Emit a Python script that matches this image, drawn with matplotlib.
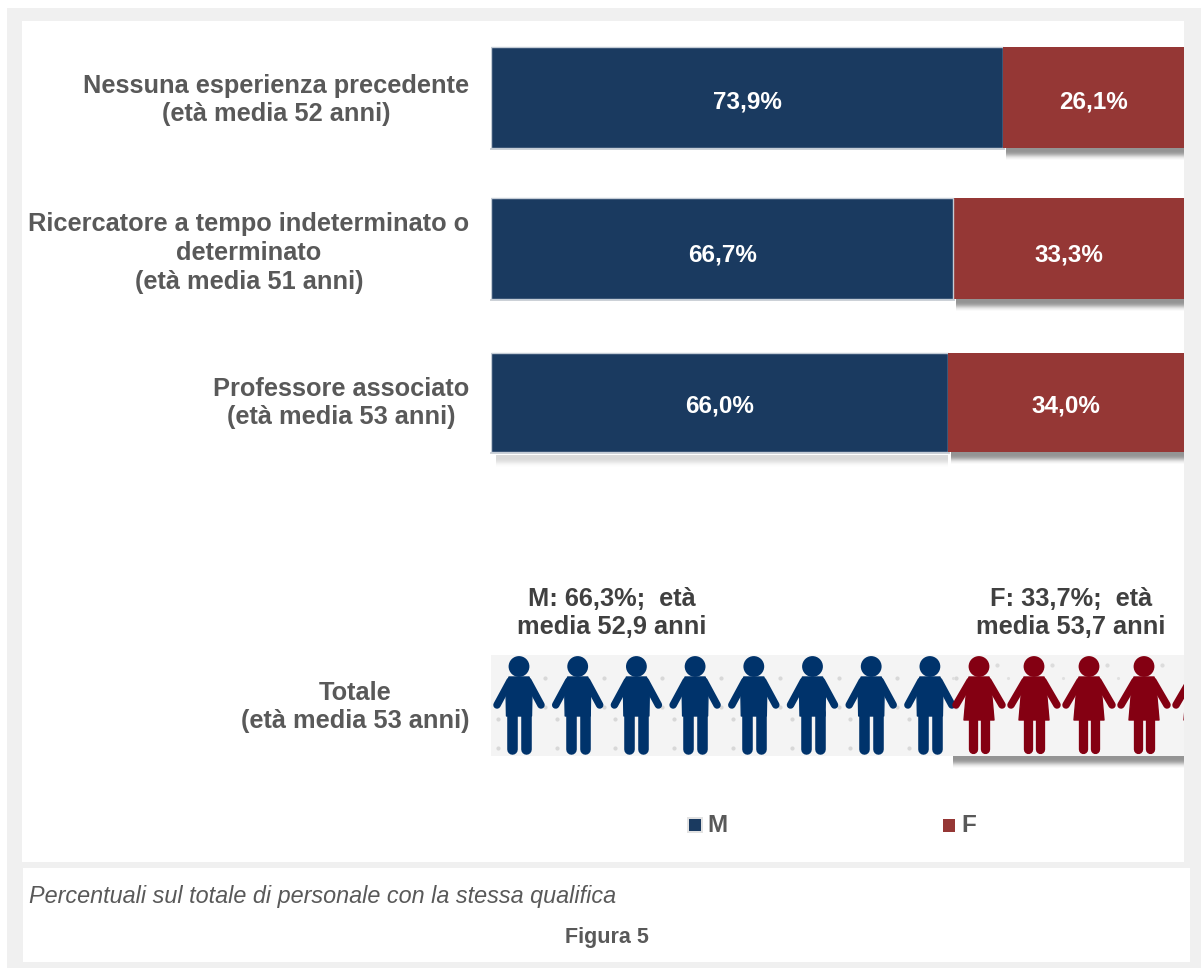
import numpy as np
import matplotlib
matplotlib.use('Agg')
import matplotlib.pyplot as plt
from matplotlib.patches import Rectangle, Circle, Polygon
from matplotlib.lines import Line2D

plt.rcParams['font.family'] = ['Liberation Sans', 'DejaVu Sans']

# percentages per qualification
categories = ["Nessuna esperienza precedente\n(età media 52 anni)",
              "Ricercatore a tempo indeterminato o\ndeterminato\n(età media 51 anni)",
              "Professore associato\n(età media 53 anni)"]
male_pct = [73.9, 66.7, 66.0]
female_pct = [26.1, 33.3, 34.0]
male_labels = ["73,9%", "66,7%", "66,0%"]
female_labels = ["26,1%", "33,3%", "34,0%"]

total_male = 66.3
total_labels = ["M: 66,3%;  età\nmedia 52,9 anni", "F: 33,7%;  età\nmedia 53,7 anni"]
total_category = "Totale\n(età media 53 anni)"
n_male_icons = 8
n_female_icons = 5

W, H = 1201, 968
NAVY = '#1a3a60'
RED = '#953735'
ICON_NAVY = '#00336b'
ICON_RED = '#840012'
GREY = '#595959'
DARK = '#404040'

fig = plt.figure(figsize=(W / 100, H / 100), dpi=100, facecolor='white')

# full-figure pixel axes for panels, labels and legend
bg = fig.add_axes([0, 0, 1, 1])
bg.set_xlim(0, W)
bg.set_ylim(H, 0)
bg.axis('off')
bg.add_patch(Rectangle((7, 8), W - 7, H - 8, fc='#f0f0f0', ec='none'))
bg.add_patch(Rectangle((22, 21), 1162, 841, fc='white', ec='none'))
bg.add_patch(Rectangle((23, 868), 1167, 94, fc='white', ec='none'))


def px_axes(x0, y0, x1, y1):
    ax = fig.add_axes([x0 / W, 1 - y1 / H, (x1 - x0) / W, (y1 - y0) / H])
    ax.patch.set_alpha(0)
    return ax


def shadow(x0, x1, y0, strength=1.0):
    # soft drop shadow under a bar, built from stacked translucent strips
    fade = [0.42, 0.42, 0.42, 0.41, 0.39, 0.35, 0.29, 0.22, 0.15, 0.09, 0.05, 0.02]
    for i, a in enumerate(fade):
        bg.add_patch(Rectangle((x0, y0 + i), x1 - x0, 1, fc='black', alpha=a * strength, ec='none', lw=0))


bar_tops = [47, 198, 353]
bar_bottoms = [148, 299, 452]
label_y = [102, 255, 406]
navy_on_top = [False, True, False]
X0, X1 = 491, 1184

for i in range(3):
    split = X0 + (X1 - X0) * male_pct[i] / 100
    shadow(split + 3, X1, bar_bottoms[i])
    bg.add_patch(Rectangle((X0 - 1, bar_bottoms[i]), split - X0 + 3, 2, fc='#cfd3d8', ec='none'))
shadow(X0 + 5, X0 + (X1 - X0) * male_pct[2] / 100, bar_bottoms[2] + 3, strength=0.35)

bars = px_axes(X0, 0, X1, H)
bars.set_xlim(0, 100)
bars.set_ylim(H, 0)
bars.axis('off')
for i in range(3):
    h = bar_bottoms[i] - bar_tops[i]
    y = (bar_tops[i] + bar_bottoms[i]) / 2
    bars.barh(y, male_pct[i], height=h, color=NAVY, edgecolor='#c4ccd6', linewidth=1,
              zorder=3 if navy_on_top[i] else 1)
    bars.barh(y, female_pct[i], left=male_pct[i], height=h, color=RED, edgecolor='none', zorder=2)
    bars.text(male_pct[i] / 2, label_y[i], male_labels[i], color='white', fontsize=17.5,
              fontweight='bold', ha='center', va='center', zorder=4)
    bars.text(male_pct[i] + female_pct[i] / 2, label_y[i], female_labels[i], color='white',
              fontsize=17.5, fontweight='bold', ha='center', va='center', zorder=4)

# category labels
cat_x = [276, 249, 341]
cat_y = [100, 253, 403]
cat_spacing = [1.2, 1.27, 1.2]
for i in range(3):
    bg.text(cat_x[i], cat_y[i], categories[i], color=GREY, fontsize=18.3, fontweight='bold',
            ha='center', va='center', linespacing=cat_spacing[i])
bg.text(355, 707, total_category, color=GREY, fontsize=18.3, fontweight='bold',
        ha='center', va='center', linespacing=1.2)

# pictogram strip
strip = px_axes(X0, 655, X1, 756)
strip.set_xlim(X0, X1)
strip.set_ylim(756, 655)
strip.axis('off')
strip.add_patch(Rectangle((X0, 655), X1 - X0, 101, fc='#f4f4f4', ec='none'))
male_dots = np.arange(498, 950, 58.7)
for row in [719, 748]:
    strip.scatter(male_dots, [row] * len(male_dots), s=9, color='#d8d8d8', linewidths=0)
for row in [678, 707]:
    strip.scatter(male_dots + 47, [row] * len(male_dots), s=9, color='#d8d8d8', linewidths=0)
female_dots = np.arange(997, 1184, 55)
strip.scatter(female_dots, [665] * len(female_dots), s=9, color='#dcdcdc', linewidths=0)
strip.scatter(female_dots - 44, [678] * len(female_dots), s=5, color='#e0e0e0', linewidths=0)


def person(ax, cx, color, female=False):
    ax.add_patch(Circle((cx, 666.5), 10.4, fc=color, ec='none'))
    hand = 23 if female else 22
    for side in (-1, 1):
        ax.add_line(Line2D([cx + side * 9, cx + side * hand], [681, 705], color=color, lw=5.4,
                           solid_capstyle='round'))
    if female:
        ax.add_patch(Polygon([(cx - 10, 677), (cx + 10, 677), (cx + 12, 686), (cx + 15, 720),
                              (cx - 15, 720), (cx - 12, 686)], fc=color, ec=color, lw=1, joinstyle='round'))
        for side in (-1, 1):
            ax.add_line(Line2D([cx + side * 6, cx + side * 6], [718, 749], color=color, lw=6.7,
                               solid_capstyle='round'))
    else:
        ax.add_patch(Polygon([(cx - 10, 677), (cx + 10, 677), (cx + 13, 688), (cx + 12.5, 716),
                              (cx - 12.5, 716), (cx - 13, 688)], fc=color, ec=color, lw=1, joinstyle='round'))
        for side in (-1, 1):
            ax.add_line(Line2D([cx + side * 7, cx + side * 7], [712, 749], color=color, lw=7.6,
                               solid_capstyle='round'))


for k in range(n_male_icons):
    person(strip, 519 + 58.7 * k, ICON_NAVY)
for k in range(n_female_icons):
    person(strip, 979 + 55 * k, ICON_RED, female=True)

shadow(X0 + (X1 - X0) * total_male / 100 + 3, X1, 756)

bg.text(612, 613, total_labels[0], color=DARK, fontsize=18.3, fontweight='bold', ha='center', va='center',
        linespacing=1.2)
bg.text(1071, 613, total_labels[1], color=DARK, fontsize=18.3, fontweight='bold', ha='center', va='center',
        linespacing=1.2)

# legend
bg.add_patch(Rectangle((687, 817), 15.5, 16, fc='#e2e2e2', ec='none'))
bg.add_patch(Rectangle((689, 819), 12, 12, fc=NAVY, ec='none'))
bg.text(707, 825, 'M', color=GREY, fontsize=17.5, fontweight='bold', ha='left', va='center')
bg.add_patch(Rectangle((943, 819), 12, 13, fc=RED, ec='none'))
bg.text(961, 825, 'F', color=GREY, fontsize=17.5, fontweight='bold', ha='left', va='center')

# footer
bg.text(29, 896, 'Percentuali sul totale di personale con la stessa qualifica', color=GREY, fontsize=16.85,
        style='italic', ha='left', va='center')
bg.text(607, 937, 'Figura 5', color=GREY, fontsize=15.5, fontweight='bold', ha='center', va='center')

fig.savefig('out.png', dpi=100)
